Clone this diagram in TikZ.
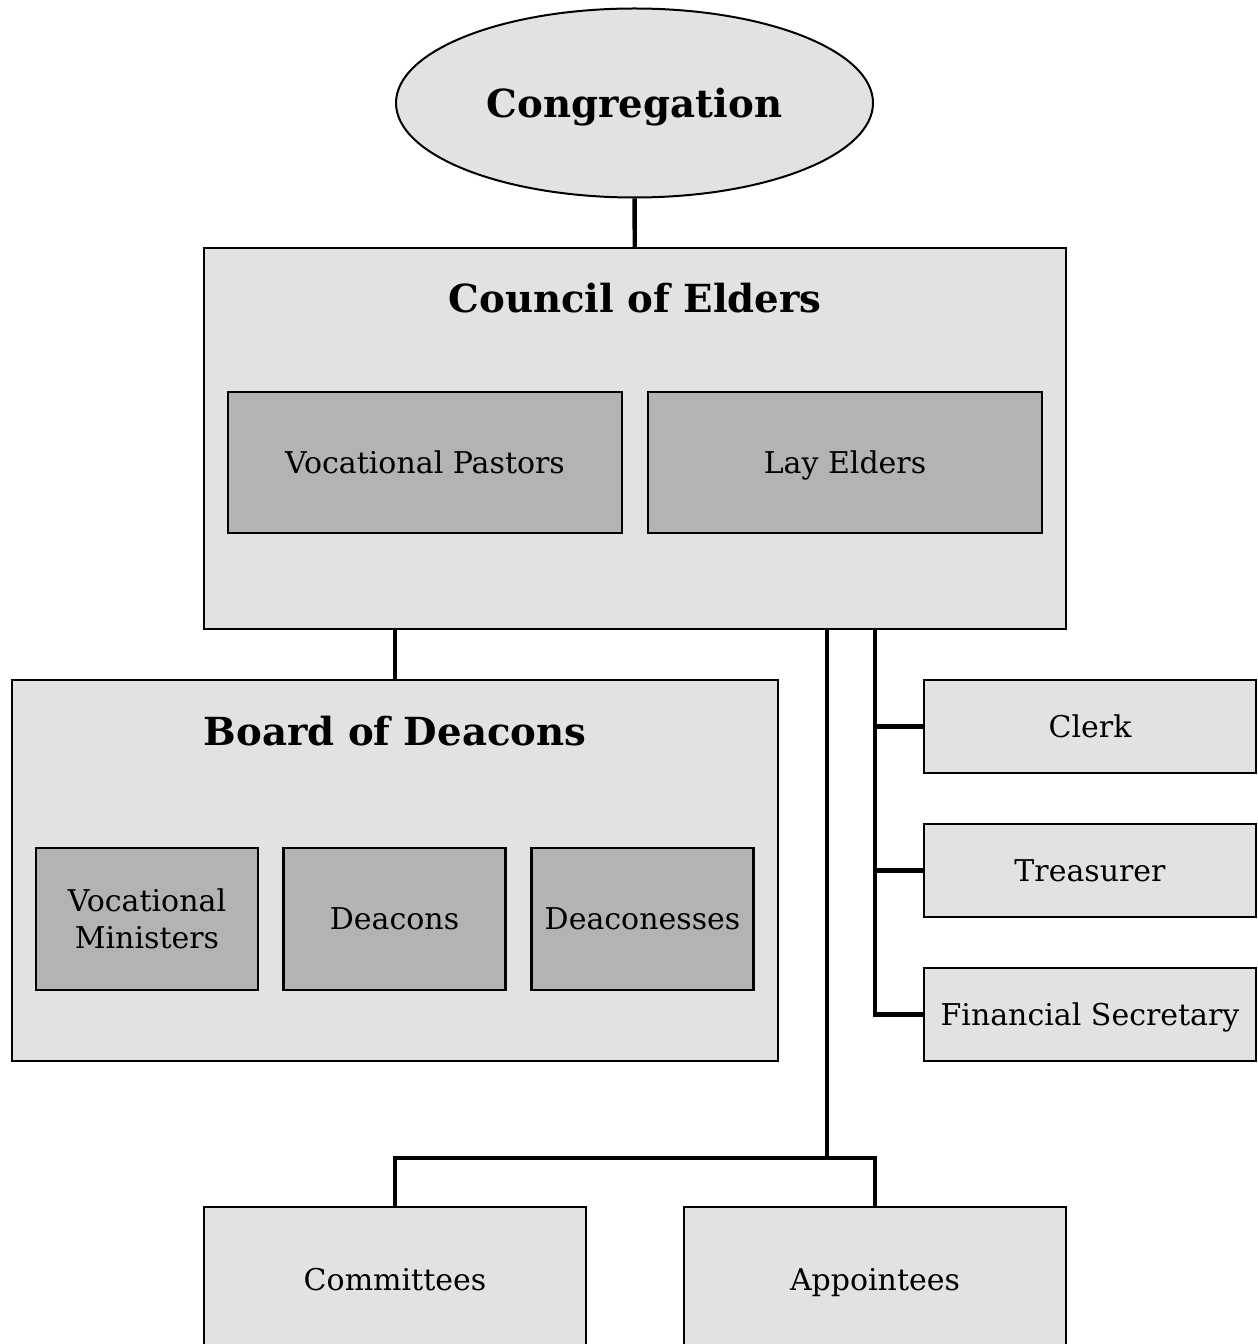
\documentclass[tikz,border=0pt]{standalone}
\usepackage{fontspec}
\setmainfont{DejaVu Serif}
\usepackage{xcolor}
\usetikzlibrary{shapes.geometric, positioning, calc}

\definecolor{boxgray}{HTML}{E2E2E2}
\definecolor{innergray}{HTML}{B3B3B3}

\tikzset{
    outerbox/.style={draw, line width=1.8pt, rectangle, fill=boxgray, inner sep=0pt, text height=16.4pt, text depth=0pt},
    innerbox/.style={draw, line width=1.8pt, rectangle, fill=innergray, inner sep=0pt, align=center, text height=16.4pt, text depth=0pt, font=\fontsize{22.5}{28}\selectfont},
    officebox/.style={draw, line width=1.8pt, rectangle, fill=boxgray, inner sep=0pt, minimum width=249pt, minimum height=69.75pt, text height=16.4pt, text depth=0pt, font=\fontsize{22.5}{28}\selectfont},
    title/.style={font=\bfseries\fontsize{29}{34}\selectfont, text height=21.1pt, text depth=0pt},
    link/.style={line width=3.3pt}
}

\begin{document}
\begin{tikzpicture}[x=0.75pt, y=-0.75pt]
    \useasboundingbox (0,0) rectangle (1257,1344);

    % Congregation
    \node[draw, ellipse, line width=1.5pt, fill=boxgray, inner sep=0pt, minimum width=357.75pt, minimum height=141.75pt, title] (cong) at (634.5,103) {Congregation};

    % Council of Elders
    \node[outerbox, minimum width=646.5pt, minimum height=285.75pt] (council) at (635,438.5) {};
    \node[title] (counciltitle) at (635,298) {Council of Elders};
    \node[innerbox, minimum width=295.5pt, minimum height=105.75pt] (pastors) at (425,462.5) {Vocational Pastors};
    \node[innerbox, minimum width=295.5pt, minimum height=105.75pt] (layelders) at (845,462.5) {Lay Elders};

    % Board of Deacons
    \node[outerbox, minimum width=574.5pt, minimum height=285.75pt] (board) at (395,870.5) {};
    \node[title] (boardtitle) at (395,731) {Board of Deacons};
    \node[innerbox, minimum width=166.5pt, minimum height=106.5pt, text height=44.4pt] (ministers) at (147,919) {Vocational\\Ministers};
    \node[innerbox, minimum width=166.5pt, minimum height=106.5pt] (deacons) at (394.5,919) {Deacons};
    \node[innerbox, minimum width=166.5pt, minimum height=106.5pt] (deaconesses) at (642.5,919) {Deaconesses};

    % Officers
    \node[officebox] (clerk) at (1090,726.5) {Clerk};
    \node[officebox] (treasurer) at (1090,870.5) {Treasurer};
    \node[officebox] (finsec) at (1090,1014.5) {Financial Secretary};

    % Committees and Appointees
    \node[outerbox, minimum width=286.5pt, minimum height=109.5pt, font=\fontsize{22.5}{28}\selectfont] (committees) at (395,1280) {Committees};
    \node[outerbox, minimum width=286.5pt, minimum height=109.5pt, font=\fontsize{22.5}{28}\selectfont] (appointees) at (875,1280) {Appointees};

    \coordinate (officespine) at (875,629);
    \coordinate (groupspine) at (827,629);
    \coordinate (split) at (827,1158);

    \draw[link] (cong) -- (council);
    \draw[link] (board.north |- council.south) -- (board.north);
    \draw[link] (officespine) |- (finsec.west);
    \draw[link] (officespine |- clerk.west) -- (clerk.west);
    \draw[link] (officespine |- treasurer.west) -- (treasurer.west);
    \draw[link] (groupspine) -- (split);
    \draw[link] (committees.north) |- (appointees.north |- split) -- (appointees.north);
\end{tikzpicture}
\end{document}
